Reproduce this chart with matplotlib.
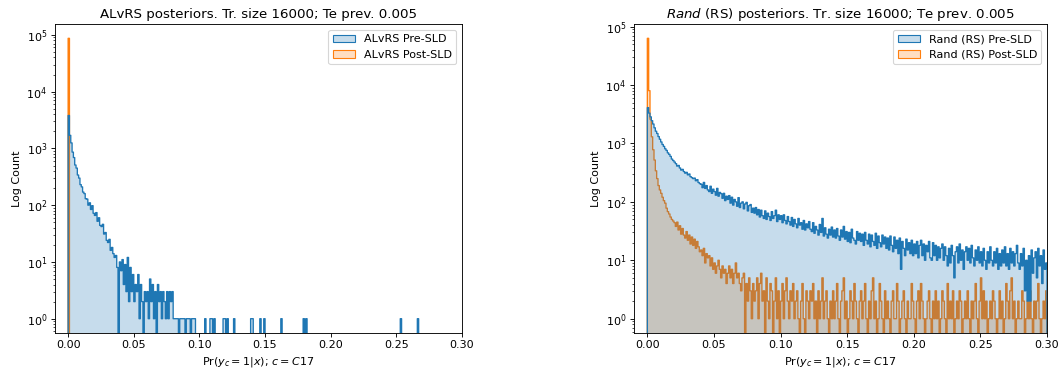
import numpy as np
import matplotlib
matplotlib.use("Agg")
import matplotlib.pyplot as plt
from matplotlib.colors import to_rgba
from matplotlib.patches import Patch

BIN_WIDTH = 0.001
N_BINS = 300
BLUE = "#1f77b4"
ORANGE = "#ff7f0e"

# ---------------------------------------------------------------------------
# ALvRS (left) counts per 0.001-wide bin.
# ---------------------------------------------------------------------------
alvrs_pre_dense = [
    3800, 1700, 1250, 860, 690, 510, 450, 340, 300, 230, 210, 170, 160, 130, 128, 100, 110, 84, 98, 72,
    66, 74, 52, 60, 44, 42, 46, 31, 33, 24, 22, 25, 16, 18, 14, 12, 13, 8, 0, 10,
    7, 11, 4, 9, 3, 12, 2, 8, 3, 6, 2, 4, 3, 6, 1, 4, 2, 0, 3, 2,
    3, 1, 5, 2, 4, 1, 3, 0, 4, 2, 3, 1, 3, 2, 1, 3, 1, 3, 2, 3,
    1, 1, 1, 1, 0, 1, 1, 1, 1, 0, 1, 1, 1, 0, 1, 1, 1,
]
# isolated bins holding a single sample further out
alvrs_pre_single_bins = [104, 108, 109, 111, 118, 119, 121, 126, 139, 140,
                         146, 149, 162, 179, 181, 253, 266]
alvrs_post_first_bin = 87000

# ---------------------------------------------------------------------------
# Rand (RS) (right) counts per 0.001-wide bin.
# ---------------------------------------------------------------------------
rand_pre = [
    4100, 3300, 2850, 2450, 2150, 1850, 1620, 1480, 1310, 1180, 1060, 960, 890, 810, 760, 690, 650, 600, 540, 510,
    480, 450, 410, 420, 380, 350, 360, 330, 310, 320, 290, 300, 270, 260, 250, 255, 230, 240, 215, 205,
    200, 175, 215, 170, 190, 160, 150, 185, 140, 165, 150, 130, 170, 125, 145, 138, 115, 140, 105, 125,
    110, 128, 95, 120, 88, 110, 100, 84, 118, 80, 95, 100, 76, 92, 98, 70, 86, 90, 66, 78,
    64, 80, 60, 74, 55, 72, 58, 52, 70, 50, 64, 56, 48, 68, 52, 58, 72, 46, 60, 50,
    58, 44, 60, 48, 42, 56, 46, 40, 54, 38, 50, 42, 36, 52, 40, 44, 34, 48, 33, 42,
    36, 46, 34, 31, 44, 29, 38, 33, 27, 41, 30, 52, 26, 36, 28, 24, 34, 27, 37, 25,
    33, 24, 35, 26, 22, 33, 25, 38, 23, 31, 21, 30, 20, 34, 24, 22, 19, 31, 22, 29,
    21, 28, 18, 30, 22, 19, 28, 17, 27, 21, 18, 29, 16, 26, 20, 17, 27, 19, 25, 16,
    24, 15, 26, 18, 14, 25, 16, 22, 13, 24, 7, 21, 16, 12, 23, 15, 20, 13, 22, 12,
    19, 13, 21, 11, 18, 22, 12, 19, 10, 18, 14, 21, 11, 10, 20, 12, 18, 10, 17, 11,
    16, 19, 10, 17, 12, 8, 16, 9, 18, 12, 5, 14, 17, 9, 19, 10, 15, 7, 14, 17,
    10, 16, 9, 18, 11, 8, 15, 10, 17, 9, 14, 8, 16, 10, 7, 14, 9, 17, 10, 8,
    14, 9, 16, 7, 13, 8, 15, 9, 17, 8, 13, 7, 16, 9, 14, 8, 13, 18, 9, 7,
    13, 8, 16, 3, 10, 2, 12, 2, 15, 6, 11, 14, 5, 16, 8, 12, 4, 15, 7, 9,
]
rand_post = [
    63000, 8000, 2600, 1300, 780, 520, 340, 250, 190, 160, 140, 120, 105, 95, 78, 68, 62, 55, 50, 47,
    44, 38, 45, 33, 39, 28, 35, 27, 24, 31, 22, 27, 19, 25, 18, 23, 16, 21, 17, 14,
    15, 12, 16, 9, 13, 11, 12, 8, 11, 7, 9, 6, 8, 10, 7, 5, 8, 6, 7, 4,
    6, 8, 5, 7, 4, 6, 9, 5, 6, 4, 3, 5, 6, 0, 4, 2, 5, 3, 1, 4,
    2, 3, 5, 1, 4, 6, 2, 3, 0, 5, 2, 1, 4, 3, 0, 2, 5, 1, 3, 0,
    2, 4, 1, 3, 5, 2, 1, 3, 2, 4, 1, 2, 3, 1, 0, 2, 4, 1, 0, 3,
    2, 1, 3, 2, 4, 1, 2, 0, 3, 1, 2, 5, 1, 2, 3, 1, 0, 2, 1, 3,
    1, 2, 4, 1, 0, 2, 3, 5, 1, 2, 0, 1, 3, 2, 1, 4, 2, 1, 0, 2,
    3, 1, 2, 4, 1, 0, 2, 1, 3, 5, 1, 2, 0, 1, 4, 2, 1, 0, 3, 1,
    2, 1, 0, 2, 3, 1, 1, 4, 2, 0, 1, 2, 3, 1, 0, 2, 1, 1, 4, 2,
    1, 0, 2, 3, 1, 4, 2, 1, 0, 1, 2, 3, 1, 0, 2, 1, 3, 1, 2, 0,
    1, 3, 2, 1, 0, 4, 1, 2, 1, 3, 0, 1, 2, 1, 3, 2, 0, 1, 2, 1,
    3, 1, 0, 2, 1, 2, 4, 1, 0, 2, 5, 1, 3, 1, 2, 0, 1, 2, 1, 3,
    2, 1, 0, 1, 3, 1, 2, 0, 1, 4, 2, 1, 3, 5, 1, 2, 0, 1, 2, 1,
    1, 3, 2, 0, 1, 2, 1, 3, 1, 0, 2, 1, 2, 4, 1, 0, 1, 2, 1, 3,
]

alvrs_pre = np.zeros(N_BINS)
alvrs_pre[:len(alvrs_pre_dense)] = alvrs_pre_dense
alvrs_pre[alvrs_pre_single_bins] = 1
alvrs_post = np.zeros(N_BINS)
alvrs_post[0] = alvrs_post_first_bin


def draw_step_hist(ax, counts, color):
    counts = np.asarray(counts, dtype=float)
    edges = np.arange(len(counts) + 1) * BIN_WIDTH
    heights = np.append(counts, counts[-1])
    ax.fill_between(edges, 0, heights, step="post",
                    facecolor=to_rgba(color, 0.25), edgecolor=color, linewidth=1.2)


def panel(ax, pre, post, name, title):
    # post first so that the pre layer sits on top (seaborn-like hue order)
    draw_step_hist(ax, post, ORANGE)
    draw_step_hist(ax, pre, BLUE)
    ax.set_yscale("log")
    top = np.log10(max(np.max(pre), np.max(post)))
    ax.set_ylim(10 ** (-0.05 * top), 10 ** (1.05 * top))
    ax.set_xlim(-0.01, 0.30)
    ax.set_title(title)
    ax.set_xlabel(r"$\Pr(y_c=1|x)$; $c=C17$")
    ax.set_ylabel("Log Count")
    handles = [
        Patch(facecolor=to_rgba(BLUE, 0.25), edgecolor=BLUE, label=f"{name} Pre-SLD"),
        Patch(facecolor=to_rgba(ORANGE, 0.25), edgecolor=ORANGE, label=f"{name} Post-SLD"),
    ]
    ax.legend(handles=handles, loc="upper right")


fig = plt.figure(figsize=(13.275, 4.725), dpi=80)
ax1 = fig.add_axes([0.0518, 0.1198, 0.3832, 0.8159])
ax2 = fig.add_axes([0.5970, 0.1198, 0.3889, 0.8159])

panel(ax1, alvrs_pre, alvrs_post, "ALvRS",
      "ALvRS posteriors. Tr. size 16000; Te prev. 0.005")
panel(ax2, rand_pre, rand_post, "Rand (RS)",
      r"$\it{Rand}$ (RS) posteriors. Tr. size 16000; Te prev. 0.005")

fig.savefig("out.png", dpi=80, facecolor="white")
